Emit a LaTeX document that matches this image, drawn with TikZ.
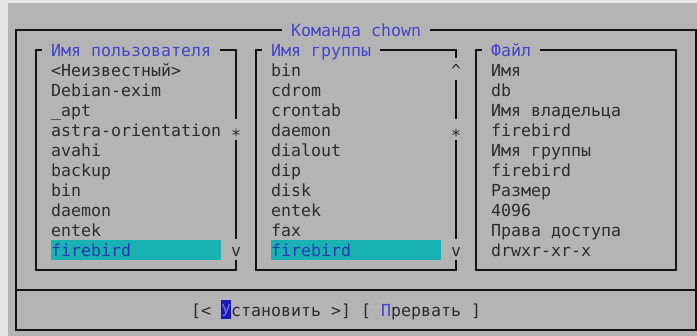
\documentclass[tikz,border=0pt]{standalone}
\usepackage{fontspec}
\newfontfamily\mono{DejaVu Sans Mono}
\definecolor{outer}{HTML}{E6E6E6}
\definecolor{bg}{HTML}{B4B4B4}
\definecolor{frame}{HTML}{141414}
\definecolor{ttl}{HTML}{4444C8}
\definecolor{itm}{HTML}{2C2C2C}
\definecolor{hl}{HTML}{18B2B2}
\definecolor{hltxt}{HTML}{2238B0}
\definecolor{cur}{HTML}{1818B8}
\definecolor{curtxt}{HTML}{6A6AE6}
\tikzset{
  frm/.style={draw=frame, line width=2pt, line join=miter, line cap=rect},
  cell/.style={font=\mono\fontsize{16.6}{20}\selectfont, inner sep=0pt, text height=17pt, text depth=3pt, anchor=west},
  item/.style={cell, text=itm},
  ttlt/.style={cell, text=ttl},
  hlt/.style={cell, text=hltxt},
  scrollmark/.style={cell, text=itm, anchor=center, text width=10pt, align=center}
}
\begin{document}
\begin{tikzpicture}[x=1pt, y=-1pt]
\useasboundingbox (0,0) rectangle (697,336);
\fill[outer] (0,0) rectangle (697,336);
\fill[bg] (8,3) rectangle (697,336);
% outer frame
\draw[frm] (281,30) -- (16,30) -- (16,330) -- (696,330) -- (696,30) -- (431,30);
\draw[frm] (16,290) -- (696,290);
\node[ttlt] (title) at (291,30) {Команда chown};
% box 1
\draw[frm] (41,50) -- (36,50) -- (36,270) -- (236,270) -- (236,261);
\draw[frm] (236,238) -- (236,141);
\draw[frm] (236,118) -- (236,50) -- (221,50);
\node[ttlt] (t1) at (51,50) {Имя пользователя};
\fill[hl] (51,240) rectangle (221,260);
\node[item] (u1) at (51,70) {<Неизвестный>};
\node[item] (u2) at (51,90) {Debian-exim};
\node[item] (u3) at (51,110) {\_apt};
\node[item] (u4) at (51,130) {astra-orientation};
\node[item] (u5) at (51,150) {avahi};
\node[item] (u6) at (51,170) {backup};
\node[item] (u7) at (51,190) {bin};
\node[item] (u8) at (51,210) {daemon};
\node[item] (u9) at (51,230) {entek};
\node[hlt] (u10) at (51,250) {firebird};
\node[scrollmark] (s1) at (236,135) {*};
\node[scrollmark] (v1) at (236,250) {v};
% box 2
\draw[frm] (261,50) -- (256,50) -- (256,270) -- (456,270) -- (456,261);
\draw[frm] (456,238) -- (456,141);
\draw[frm] (456,118) -- (456,81);
\draw[frm] (381,50) -- (456,50) -- (456,57);
\node[ttlt] (t2) at (271,50) {Имя группы};
\fill[hl] (271,240) rectangle (441,260);
\node[item] (g1) at (271,70) {bin};
\node[item] (g2) at (271,90) {cdrom};
\node[item] (g3) at (271,110) {crontab};
\node[item] (g4) at (271,130) {daemon};
\node[item] (g5) at (271,150) {dialout};
\node[item] (g6) at (271,170) {dip};
\node[item] (g7) at (271,190) {disk};
\node[item] (g8) at (271,210) {entek};
\node[item] (g9) at (271,230) {fax};
\node[hlt] (g10) at (271,250) {firebird};
\node[scrollmark] (up2) at (456,70) {\^{}};
\node[scrollmark] (s2) at (456,135) {*};
\node[scrollmark] (v2) at (456,250) {v};
% box 3
\draw[frm] (481,50) -- (476,50) -- (476,270) -- (676,270) -- (676,50) -- (541,50);
\node[ttlt] (t3) at (491,50) {Файл};
\node[item] (f1) at (491,70) {Имя};
\node[item] (f2) at (491,90) {db};
\node[item] (f3) at (491,110) {Имя владельца};
\node[item] (f4) at (491,130) {firebird};
\node[item] (f5) at (491,150) {Имя группы};
\node[item] (f6) at (491,170) {firebird};
\node[item] (f7) at (491,190) {Размер};
\node[item] (f8) at (491,210) {4096};
\node[item] (f9) at (491,230) {Права доступа};
\node[item] (f10) at (491,250) {drwxr-xr-x};
% buttons
\fill[cur] (221,300) rectangle (231,319);
\node[item] (b1) at (191,310) {[<};
\node[cell, text=curtxt] (b2) at (221,310) {У};
\node[item] (b3) at (231,310) {становить >] [};
\node[ttlt] (b4) at (381,310) {П};
\node[item] (b5) at (391,310) {рервать ]};
\end{tikzpicture}
\end{document}
